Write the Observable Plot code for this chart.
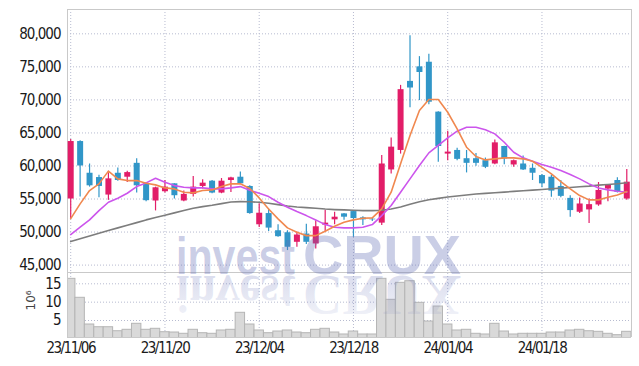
<!DOCTYPE html>
<html><head><meta charset="utf-8">
<script src="https://cdn.jsdelivr.net/npm/d3@7"></script>
<script src="https://cdn.jsdelivr.net/npm/@observablehq/plot@0.6"></script>
<style>
body{margin:0;background:#fff;}
#wrap{position:relative;width:639px;height:366px;overflow:hidden;}
#wrap > div > svg{display:block;}
#wm{position:absolute;left:0;top:0;pointer-events:none;}
g[aria-label="y-axis tick label"] text{letter-spacing:-1px;}
g[aria-label="x-axis tick label"] text{letter-spacing:-1.5px;}
</style></head><body>
<div id="wrap"><div id="price"></div><div id="vol"></div>
<svg id="wm" width="639" height="366">
  <defs>
    <linearGradient id="fade" gradientUnits="userSpaceOnUse" x1="0" y1="274" x2="0" y2="228">
      <stop offset="0" stop-color="rgb(104,115,184)" stop-opacity="0.24"/>
      <stop offset="1" stop-color="rgb(104,115,184)" stop-opacity="0.08"/>
    </linearGradient>
  </defs>
  <g font-family="'Liberation Sans',Arial,sans-serif" fill="rgba(104,115,184,0.35)">
    <g id="logo">
      <text x="176" y="274" font-weight="bold"><tspan font-size="52" textLength="119" lengthAdjust="spacingAndGlyphs">invest</tspan><tspan x="303" font-size="56" textLength="158" lengthAdjust="spacingAndGlyphs">CRUX</tspan></text>
    </g>
  </g>
  <use href="#logo" transform="translate(0,550) scale(1,-1)" fill="url(#fade)"/>
</svg></div>
<script>
const dates = [
"23/11/06","23/11/07","23/11/08","23/11/09","23/11/10",
"23/11/13","23/11/14","23/11/15","23/11/16","23/11/17",
"23/11/20","23/11/21","23/11/22","23/11/23","23/11/24",
"23/11/27","23/11/28","23/11/29","23/11/30","23/12/01",
"23/12/04","23/12/05","23/12/06","23/12/07","23/12/08",
"23/12/11","23/12/12","23/12/13","23/12/14","23/12/15",
"23/12/18","23/12/19","23/12/20","23/12/21","23/12/22",
"23/12/26","23/12/27","23/12/28","24/01/02","24/01/03",
"24/01/04","24/01/05","24/01/08","24/01/09","24/01/10",
"24/01/11","24/01/12","24/01/15","24/01/16","24/01/17",
"24/01/18","24/01/19","24/01/22","24/01/23","24/01/24",
"24/01/25","24/01/26","24/01/29","24/01/30","24/01/31"];

const open = [55000,63700,58900,58250,55600,58900,58300,60400,57300,54700,
56100,57300,54700,55700,56900,57700,55900,57800,58300,56900,
51100,52800,50200,49900,48450,49700,48200,51050,51850,52750,
53100,52150,51950,51350,59400,62350,72800,75000,75700,68150,
61800,62350,61100,61100,60800,60300,62950,60150,60300,59650,
58550,58300,56900,55100,53000,53350,54100,56500,57800,55000];
const high = [64000,63800,60300,58600,59200,59700,59200,61100,57500,56800,
57800,57300,56200,58400,57900,57800,58100,58300,59100,57000,
54300,53500,51100,50200,50000,51200,51700,53300,53000,52800,
53200,52300,52100,61600,64250,72200,79700,76550,76900,68200,
65250,62700,62350,61900,61200,63950,63000,60900,61500,60300,
58700,58600,57800,55500,55150,55000,57500,57100,58200,59450];
const low = [52000,55300,56800,55200,54800,57700,57500,55900,54600,53200,
55900,55000,54600,55300,56500,55800,55800,56000,57200,52700,
50700,50100,49200,47200,47700,48100,47450,50100,51100,51800,
49200,51000,51600,51000,58800,61800,68800,69900,69250,60550,
60800,60800,58950,59950,59600,60200,60200,59800,59300,57800,
56700,55250,55200,52250,52800,51300,53900,54600,55900,54800];
const close = [63700,60000,57000,56900,58050,57800,59000,57000,54750,56700,
56800,55500,55700,56800,57400,55900,57700,58200,57300,52800,
52850,50600,49300,47700,49550,48450,50800,51350,52250,52250,
52050,51850,51850,60300,62850,71550,71800,74150,69650,62950,
62100,61000,60400,60400,59800,63500,61050,60800,59400,58900,
57300,56200,55400,53250,54250,54150,56300,57050,56000,57550];

const ma5 = [52030,54260,56280,57290,59220,58050,57790,57790,57390,57140,
56680,56530,56030,55930,56280,56380,56880,57290,57300,56600,
55170,53500,52000,50630,49970,49460,49460,50120,50880,51480,
51840,52090,52140,53500,56030,60320,64600,68390,70050,70050,
68130,65620,62840,61430,60920,61080,61230,61230,61080,60710,
59800,58800,57640,56530,55520,54870,54870,55260,55620,56130];
const ma10 = [49620,50730,51840,53250,54510,55120,55870,56880,57440,58140,
57530,57030,56780,56680,56680,56530,56530,56680,56880,56330,
55870,55370,54510,53750,53100,52490,51840,51130,50730,50630,
50630,50730,51130,52490,54010,56030,58050,60070,61980,63100,
64250,65260,65860,65860,65470,64860,63590,62080,61230,60710,
60210,59800,59300,58700,58050,57290,56680,56380,56180,56030];
const maLong = [48560,48980,49400,49810,50240,50630,51030,51430,51840,52200,
52550,52900,53250,53600,53850,54050,54300,54550,54600,54580,
54500,54350,54150,53950,53800,53700,53600,53480,53400,53350,
53300,53250,53250,53300,53500,53800,54200,54600,54900,55100,
55300,55450,55600,55750,55850,55950,56050,56150,56250,56350,
56450,56550,56650,56750,56850,56950,57100,57200,57300,57450];
const volume = [16.36,11.19,3.91,3.17,3.17,2.08,2.47,4.10,2.47,2.74,
1.81,1.73,1.38,2.47,1.54,1.38,2.28,2.47,7.10,3.91,
2.28,1.54,2.00,2.28,1.73,1.54,2.47,2.74,1.73,1.19,
2.00,1.19,1.19,16.36,10.64,15.27,15.71,9.82,4.73,8.81,
3.91,2.28,2.47,1.38,1.19,4.10,2.00,1.19,1.38,1.38,
1.38,1.73,1.73,2.28,2.47,2.08,1.92,1.38,1.00,1.92];

const priceTicks = [45000,50000,55000,60000,65000,70000,75000,80000];
const volTicks = [5,10,15];
const dateTickIdx = [0,10,20,30,40,50];

const rows = dates.map((d,i)=>({i, date:d, o:open[i], h:high[i], l:low[i], c:close[i],
  ma5:ma5[i], ma10:ma10[i], maL:maLong[i], v:volume[i]}));
const isUp = d => d.c >= d.o;
const upCol = "#e21d68", downCol = "#3196c8";
const font = "'DejaVu Sans Condensed','Liberation Sans Narrow','Roboto',sans-serif";
const xDomain = [-0.34, 59.5];
const grid = {stroke:"#b7bbd0", strokeOpacity:1, strokeDasharray:"1,2", strokeWidth:1};
const frameCol = "#c9c9c9";

const price = Plot.plot({
  width:639, height:273, marginLeft:67, marginRight:8, marginTop:9, marginBottom:1,
  style:{fontFamily:font, fontSize:"15px", color:"#1a1a1a", background:"transparent"},
  x:{domain:xDomain, axis:null},
  y:{domain:[43880,83680], axis:null},
  marks:[
    Plot.gridY(priceTicks, grid),
    Plot.gridX(dateTickIdx, grid),
    Plot.frame({stroke:frameCol}),
    Plot.ruleX(rows, {filter:isUp, x:"i", y1:"l", y2:"h", stroke:upCol, strokeWidth:1.2}),
    Plot.ruleX(rows, {filter:d=>!isUp(d), x:"i", y1:"l", y2:"h", stroke:downCol, strokeWidth:1.2}),
    Plot.ruleX(rows, {filter:isUp, x:"i", y1:"o", y2:"c", stroke:upCol, strokeWidth:6}),
    Plot.ruleX(rows, {filter:d=>!isUp(d), x:"i", y1:"o", y2:"c", stroke:downCol, strokeWidth:6}),
    Plot.line(rows, {x:"i", y:"maL", stroke:"#7d7d7d", strokeWidth:1.6}),
    Plot.line(rows, {x:"i", y:"ma10", stroke:"#cc55ec", strokeWidth:1.6}),
    Plot.line(rows, {x:"i", y:"ma5", stroke:"#f0884f", strokeWidth:1.6}),
    Plot.axisY(priceTicks, {tickFormat:d3.format(","), tickSize:0, tickPadding:7, label:null})
  ]
});
document.getElementById("price").appendChild(price);

const vol = Plot.plot({
  width:639, height:93, marginLeft:67, marginRight:8, marginTop:0, marginBottom:29,
  style:{fontFamily:font, fontSize:"15px", color:"#1a1a1a", background:"transparent"},
  x:{domain:xDomain},
  y:{domain:[0.37,17.81]},
  marks:[
    Plot.gridY(volTicks, grid),
    Plot.gridX(dateTickIdx, grid),
    Plot.rectY(rows, {x1:d=>d.i-0.5, x2:d=>d.i+0.5, y1:0, y2:"v", fill:"#d9d9d9", stroke:"#b5b5b5", strokeWidth:1, clip:true}),
    Plot.ruleX(xDomain, {stroke:frameCol}),
    Plot.ruleY([0.37], {stroke:frameCol}),
    Plot.axisY(volTicks, {tickSize:0, tickPadding:7, label:null}),
    Plot.axisX(dateTickIdx, {tickFormat:i=>dates[i], tickSize:0, tickPadding:5, label:null}),
    Plot.text(["10\u2076"], {frameAnchor:"left", dx:-36, dy:5, rotate:-90, fontSize:12, fill:"#444", fontFamily:"'DejaVu Sans',sans-serif"})
  ]
});
document.getElementById("vol").appendChild(vol);
</script>
</body></html>
